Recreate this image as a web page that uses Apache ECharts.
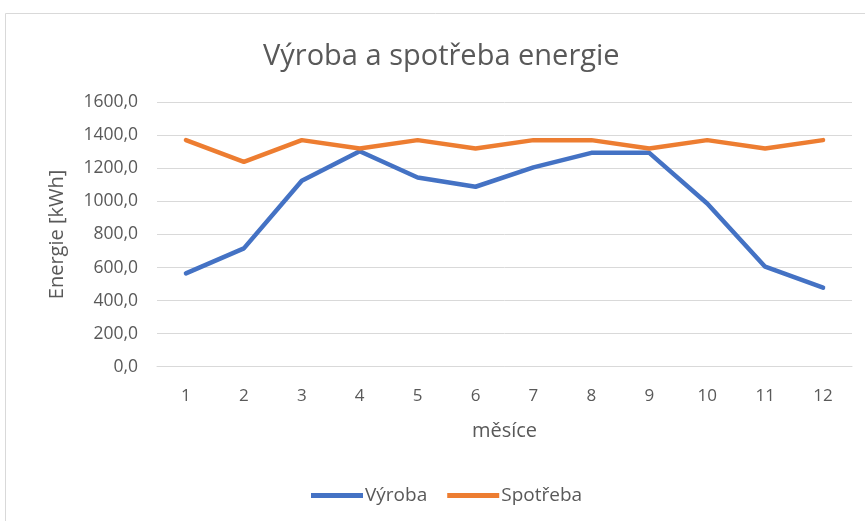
<!DOCTYPE html>
<html><head><meta charset="utf-8">
<script src="https://cdn.jsdelivr.net/npm/echarts@6/dist/echarts.min.js"></script>
<style>html,body{margin:0;padding:0;background:#fff}#c{width:865px;height:521px}</style>
</head><body><div id="c"></div>
<script>
const months = ['1','2','3','4','5','6','7','8','9','10','11','12'];
const vyroba = [565, 716, 1125, 1304, 1145, 1089, 1206, 1294, 1294, 988, 605, 478];
const spotreba = [1371, 1240, 1371, 1320, 1371, 1320, 1371, 1371, 1320, 1371, 1320, 1371];
const FONT = 'Open Sans';
const txt = '#595959';
const chart = echarts.init(document.getElementById('c'));
chart.setOption({
  animation: false,
  textStyle: { fontFamily: FONT },
  graphic: [{ type: 'rect', shape: { x: 5.5, y: 13.5, width: 870, height: 520 }, style: { fill: 'none', stroke: '#d9d9d9', lineWidth: 1 }, silent: true }],
  title: { text: 'Výroba a spotřeba energie', left: 258, top: 37, textStyle: { fontFamily: FONT, fontSize: 29, fontWeight: 'normal', color: txt } },
  legend: {
    bottom: 11, left: 306, itemWidth: 52, itemHeight: 5, itemGap: 20, icon: 'rect',
    textStyle: { fontFamily: FONT, fontSize: 19, color: txt, padding: [0, 0, 0, -3] },
    data: ['Výroba', 'Spotřeba']
  },
  grid: { left: 157, right: 13, top: 102.3, bottom: 154.3 },
  xAxis: {
    type: 'category', data: months, boundaryGap: true,
    name: 'měsíce', nameLocation: 'middle', nameGap: 55,
    nameTextStyle: { fontFamily: FONT, fontSize: 20, color: txt },
    axisLine: { show: true, lineStyle: { color: '#d9d9d9' } }, axisTick: { show: false },
    axisLabel: { fontFamily: FONT, fontSize: 17, color: txt, margin: 21 }
  },
  yAxis: {
    type: 'value', min: 0, max: 1600, interval: 200,
    name: 'Energie [kWh]', nameLocation: 'middle', nameGap: 90, nameRotate: 90,
    nameTextStyle: { fontFamily: FONT, fontSize: 20, color: txt },
    axisLine: { show: false }, axisTick: { show: false },
    splitLine: { lineStyle: { color: '#d9d9d9', width: 1 } },
    axisLabel: { fontFamily: FONT, fontSize: 17.5, color: txt, margin: 19, formatter: v => v.toFixed(1).replace('.', ',') }
  },
  series: [
    { name: 'Výroba', type: 'line', data: vyroba, symbol: 'none', lineStyle: { color: '#4472C4', width: 4.5, cap: 'round', join: 'round' }, itemStyle: { color: '#4472C4' } },
    { name: 'Spotřeba', type: 'line', data: spotreba, symbol: 'none', lineStyle: { color: '#ED7D31', width: 4.5, cap: 'round', join: 'round' }, itemStyle: { color: '#ED7D31' } }
  ]
});
</script></body></html>
